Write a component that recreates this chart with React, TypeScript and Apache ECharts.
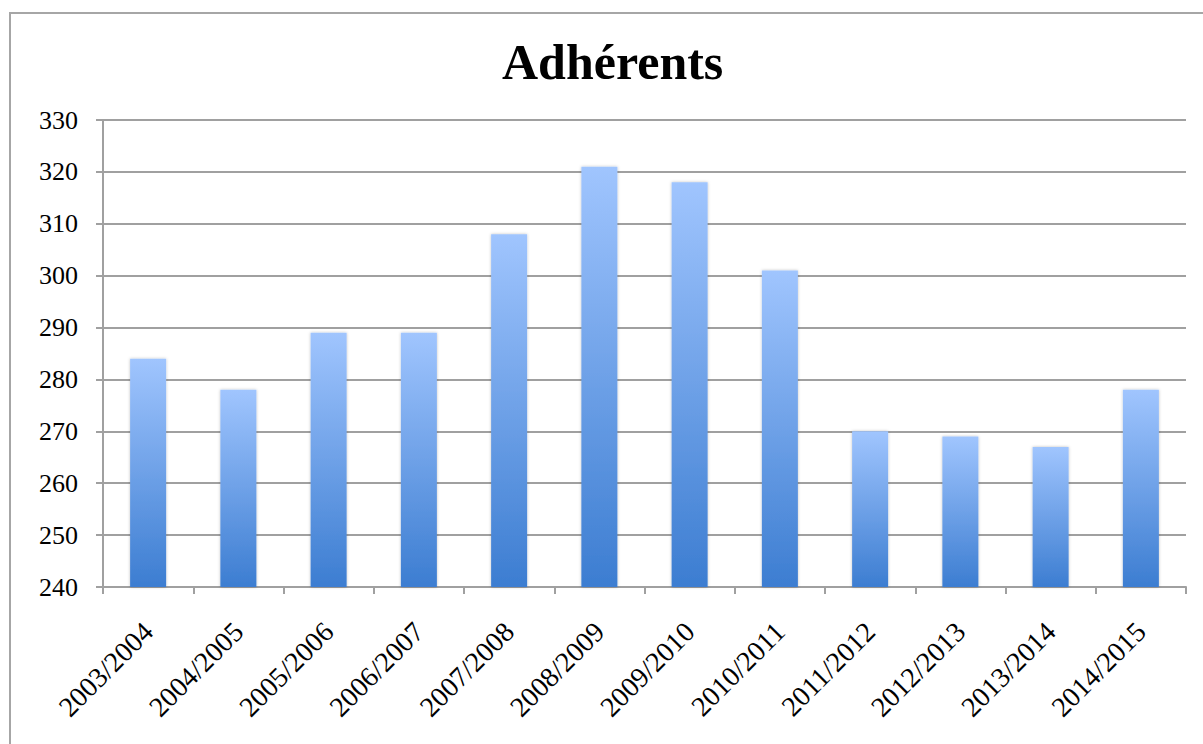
import React, { useEffect, useRef } from "react";
import * as echarts from "echarts";

const categories = [
  "2003/2004", "2004/2005", "2005/2006", "2006/2007", "2007/2008", "2008/2009",
  "2009/2010", "2010/2011", "2011/2012", "2012/2013", "2013/2014", "2014/2015",
];
const adherents = [284, 278, 289, 289, 308, 321, 318, 301, 270, 269, 267, 278];
const yMin = 240;
const yMax = 330;
const yStep = 10;
const title = "Adhérents";

export default function App() {
  const ref = useRef<HTMLDivElement>(null);
  useEffect(() => {
    if (!ref.current) return;
    const chart = echarts.init(ref.current, null, { renderer: "svg" });
    const serif = "'Liberation Serif', 'DejaVu Serif', serif";
    chart.setOption({
      animation: false,
      backgroundColor: "#ffffff",
      title: {
        text: title,
        left: 497,
        top: 32,
        textStyle: { fontFamily: serif, fontWeight: "bold", fontSize: 50, color: "#000" },
      },
      graphic: [
        {
          type: "rect",
          shape: { x: 10, y: 13, width: 1300, height: 900 },
          style: { fill: "none", stroke: "#a6a6a6", lineWidth: 2 },
          silent: true,
        },
      ],
      grid: { left: 103, right: 17, top: 120, bottom: 157 },
      xAxis: {
        type: "category",
        data: categories,
        boundaryGap: true,
        axisLine: { show: true, lineStyle: { color: "#a0a0a0", width: 2 } },
        axisTick: { show: true, length: 7, alignWithLabel: false, lineStyle: { color: "#a0a0a0", width: 2 } },
        axisLabel: {
          rotate: 45,
          interval: 0,
          margin: 40,
          fontFamily: serif,
          fontSize: 28,
          color: "#000",
        },
      },
      yAxis: {
        type: "value",
        min: yMin,
        max: yMax,
        interval: yStep,
        axisLine: { show: true, lineStyle: { color: "#a0a0a0", width: 2 } },
        axisTick: { show: true, inside: false, length: 7, lineStyle: { color: "#a0a0a0", width: 2 } },
        splitLine: { show: true, lineStyle: { color: "#a0a0a0", width: 2 } },
        axisLabel: { margin: 25, fontFamily: serif, fontSize: 26, color: "#000" },
      },
      series: [
        {
          type: "bar",
          data: adherents,
          barWidth: 36,
          itemStyle: {
            color: new echarts.graphic.LinearGradient(0, 0, 0, 1, [
              { offset: 0, color: "#a0c5fe" },
              { offset: 1, color: "#3c7dd1" },
            ]),
            shadowColor: "rgba(0,0,0,0.25)",
            shadowBlur: 3,
            shadowOffsetX: 0,
            shadowOffsetY: 0,
          },
        },
      ],
    });
    return () => chart.dispose();
  }, []);
  return (
    <div
      ref={ref}
      style={{ position: "fixed", left: 0, top: 0, width: 1203, height: 744 }}
    />
  );
}
